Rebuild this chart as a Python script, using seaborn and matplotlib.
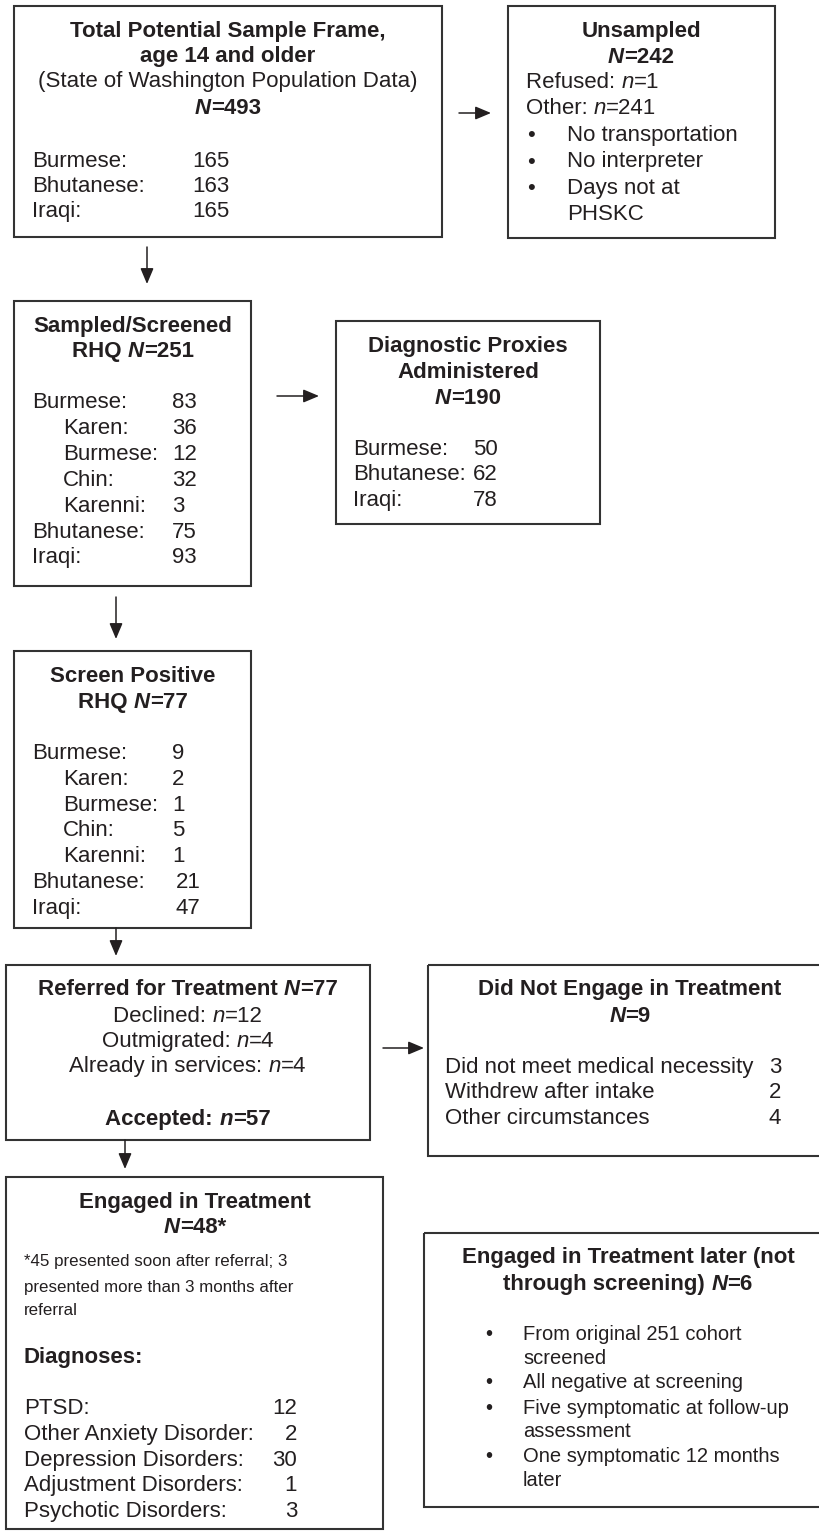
import matplotlib
matplotlib.use("Agg")
import matplotlib.pyplot as plt
from matplotlib.patches import Rectangle
import seaborn as sns

sns.set_theme(style="white")
plt.rcParams["font.family"] = ["Liberation Sans", "DejaVu Sans"]

INK = "#231f20"
EDGE = "#333333"
FS = 16
FS_MID = 14.5
FS_SMALL = 12.2

# ---- flowchart data ----
frame_n = 493
frame_groups = ["Burmese:", "Bhutanese:", "Iraqi:"]
frame_counts = [165, 163, 165]

unsampled_n = 242
refused_n = 1
other_n = 241
unsampled_reasons = ["No transportation", "No interpreter", "Days not at\nPHSKC"]

screened_n = 251
subgroup_names = ["Burmese:", "Karen:", "Burmese:", "Chin:", "Karenni:", "Bhutanese:", "Iraqi:"]
subgroup_level = [0, 1, 1, 1, 1, 0, 0]
screened_counts = [83, 36, 12, 32, 3, 75, 93]

proxy_n = 190
proxy_groups = ["Burmese:", "Bhutanese:", "Iraqi:"]
proxy_counts = [50, 62, 78]

positive_n = 77
positive_counts = [9, 2, 1, 5, 1, 21, 47]

referred_n = 77
declined_n = 12
outmigrated_n = 4
in_services_n = 4
accepted_n = 57

not_engaged_n = 9
not_engaged_reasons = ["Did not meet medical necessity", "Withdrew after intake", "Other circumstances"]
not_engaged_counts = [3, 2, 4]

engaged_n = 48
engaged_note = ["*45 presented soon after referral; 3", "presented more than 3 months after", "referral"]
diagnoses = ["PTSD:", "Other Anxiety Disorder:", "Depression Disorders:",
             "Adjustment Disorders:", "Psychotic Disorders:"]
diagnosis_counts = [12, 2, 30, 1, 3]

later_n = 6
later_points = ["From original 251 cohort\nscreened", "All negative at screening",
                "Five symptomatic at follow-up\nassessment", "One symptomatic 12 months\nlater"]

# ---- layout (pixel coords, y down) ----
W, H = 820, 1532
fig = plt.figure(figsize=(W / 100, H / 100), dpi=100)
ax = fig.add_axes([0, 0, 1, 1])
ax.set_xlim(0, W)
ax.set_ylim(H, 0)
ax.axis("off")
renderer = fig.canvas.get_renderer()

STYLES = {"r": ("normal", "normal"), "b": ("bold", "normal"),
          "i": ("normal", "italic"), "bi": ("bold", "italic")}
_bar_cache = {}


def _raw_width(s, st, size):
    weight, style = STYLES[st]
    t = ax.text(0, 0, s, fontsize=size, fontweight=weight, fontstyle=style)
    w = t.get_window_extent(renderer).width
    t.remove()
    return w


def seg_width(s, st, size):
    key = (st, size)
    if key not in _bar_cache:
        _bar_cache[key] = _raw_width("||", st, size)
    return _raw_width("|" + s + "|", st, size) - _bar_cache[key]


def line(x, y, segs, align="left", size=FS):
    if isinstance(segs, str):
        segs = [(segs, "r")]
    widths = [seg_width(s, st, size) for s, st in segs]
    total = sum(widths)
    x0 = x - total / 2 if align == "center" else (x - total if align == "right" else x)
    for (s, st), w in zip(segs, widths):
        weight, style = STYLES[st]
        ax.text(x0, y, s, fontsize=size, fontweight=weight, fontstyle=style,
                color=INK, ha="left", va="baseline")
        x0 += w


def box(x0, y0, x1, y1):
    ax.add_patch(Rectangle((x0, y0), x1 - x0, y1 - y0, fill=False,
                           edgecolor=EDGE, linewidth=1.5))


def arrow(x0, y0, x1, y1):
    ax.annotate("", xy=(x1, y1), xytext=(x0, y0),
                arrowprops=dict(arrowstyle="-|>,head_length=0.95,head_width=0.4",
                                mutation_scale=10, color=INK, lw=1.1,
                                shrinkA=0, shrinkB=0))


def n_eq(value, st="b", letter="N"):
    it = "bi" if st == "b" else "i"
    return [(letter, it), (f"={value}", st)]


# Total potential sample frame
box(14, 6, 442, 237)
line(228, 37, [("Total Potential Sample Frame,", "b")], "center")
line(228, 62, [("age 14 and older", "b")], "center")
line(228, 87, "(State of Washington Population Data)", "center")
line(228, 114, n_eq(frame_n), "center")
for i, (g, c) in enumerate(zip(frame_groups, frame_counts)):
    line(32, 167 + i * 25, g)
    line(192, 167 + i * 25, str(c))

# Unsampled
box(508, 6, 775, 238)
line(641, 37, [("Unsampled", "b")], "center")
line(641, 63, n_eq(unsampled_n), "center")
line(526, 88, [("Refused: ", "r")] + n_eq(refused_n, "r", "n"))
line(526, 114, [("Other: ", "r")] + n_eq(other_n, "r", "n"))
y = 141
for reason in unsampled_reasons:
    parts = reason.split("\n")
    line(527, y, "\u2022")
    for p in parts:
        line(567, y, p)
        y += 26.5

# Sampled / screened
box(14, 301, 251, 586)
line(133, 332, [("Sampled/Screened", "b")], "center")
line(133, 357, [("RHQ ", "b")] + n_eq(screened_n), "center")
for i, (g, lvl, c) in enumerate(zip(subgroup_names, subgroup_level, screened_counts)):
    yy = 408 + i * 25.9
    line(32 + 31 * lvl, yy, g)
    line(172, yy, str(c))

# Diagnostic proxies
box(336, 321, 600, 524)
line(468, 352, [("Diagnostic Proxies", "b")], "center")
line(468, 378, [("Administered", "b")], "center")
line(468, 404, n_eq(proxy_n), "center")
for i, (g, c) in enumerate(zip(proxy_groups, proxy_counts)):
    line(353, 455 + i * 25.5, g)
    line(473, 455 + i * 25.5, str(c))

# Screen positive
box(14, 651, 251, 928)
line(133, 682, [("Screen Positive", "b")], "center")
line(133, 708, [("RHQ ", "b")] + n_eq(positive_n), "center")
for i, (g, lvl, c) in enumerate(zip(subgroup_names, subgroup_level, positive_counts)):
    yy = 759 + i * 25.8
    line(32 + 31 * lvl, yy, g)
    line(172 if c < 10 else 176, yy, str(c))

# Referred for treatment
box(6, 965, 370, 1140)
line(188, 995, [("Referred for Treatment ", "b")] + n_eq(referred_n), "center")
line(188, 1022, [("Declined: ", "r")] + n_eq(declined_n, "r", "n"), "center")
line(188, 1047, [("Outmigrated: ", "r")] + n_eq(outmigrated_n, "r", "n"), "center")
line(188, 1072, [("Already in services: ", "r")] + n_eq(in_services_n, "r", "n"), "center")
line(188, 1125, [("Accepted: ", "b")] + n_eq(accepted_n, "b", "n"), "center")

# Did not engage
box(428, 965, 834, 1156)
line(630, 995, [("Did Not Engage in Treatment", "b")], "center")
line(630, 1022, n_eq(not_engaged_n), "center")
for i, (r, c) in enumerate(zip(not_engaged_reasons, not_engaged_counts)):
    line(445, 1073 + i * 25.5, r)
    line(769, 1073 + i * 25.5, str(c))

# Engaged in treatment
box(6, 1177, 383, 1529)
line(195, 1208, [("Engaged in Treatment", "b")], "center")
line(195, 1233, n_eq(f"{engaged_n}*"), "center")
for i, note in enumerate(engaged_note):
    line(24, [1266, 1292, 1315][i], note, size=FS_SMALL)
line(24, 1363, [("Diagnoses:", "b")])
for i, (d, c) in enumerate(zip(diagnoses, diagnosis_counts)):
    line(24, 1414 + i * 25.8, d)
    line(297, 1414 + i * 25.8, str(c), "right")

# Engaged later
box(424, 1233, 834, 1507)
line(628, 1263, [("Engaged in Treatment later (not", "b")], "center")
line(628, 1290, [("through screening) ", "b")] + n_eq(later_n), "center")
y = 1340
for pt in later_points:
    parts = pt.split("\n")
    line(485, y, "\u2022", size=FS_MID)
    for p in parts:
        line(523, y, p, size=FS_MID)
        y += 23.5
    y += 1.5

# arrows
arrow(459, 113, 491, 113)
arrow(147, 247, 147, 284)
arrow(277, 396, 319, 396)
arrow(116, 597, 116, 639)
arrow(116, 928, 116, 956)
arrow(383, 1048, 424, 1048)
arrow(125, 1140, 125, 1169)

fig.savefig("out.png", dpi=100, facecolor="white")
plt.close(fig)
